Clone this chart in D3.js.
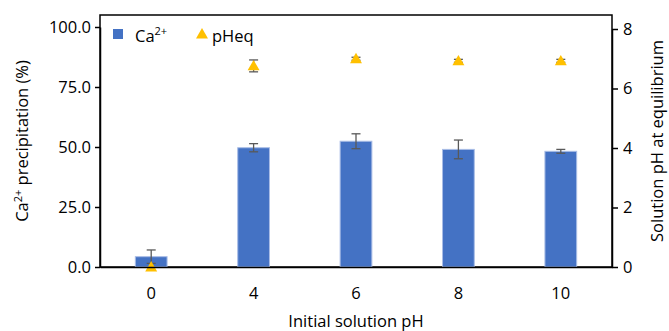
<!DOCTYPE html>
<html>
<head>
<meta charset="utf-8">
<script src="https://cdn.jsdelivr.net/npm/d3@7"></script>
<style>
  body { margin: 0; background: #fff; }
  svg { display: block; font-family: "Open Sans", sans-serif; }
</style>
</head>
<body>
<div id="chart"></div>
<script>
// data
const categories = ["0", "4", "6", "8", "10"];
const caPrecip = [4.3, 49.7, 52.4, 49.0, 48.2];
const caErr = [2.8, 1.7, 3.1, 3.9, 0.8];
const pHeq = [0.0, 6.76, 7.0, 6.93, 6.93];
const pHeqErr = [0, 0.2, 0.05, 0.05, 0.05];
const leftTicks = [0, 25, 50, 75, 100];
const rightTicks = [0, 2, 4, 6, 8];

const width = 669, height = 331;
const box = {left: 100, right: 612, top: 15, bottom: 267};
const fs = 16.5;

const svg = d3.select("#chart").append("svg")
  .attr("width", width)
  .attr("height", height);

let x = d3.scaleBand().domain(categories).range([box.left, box.right]).padding(0);
let yL = d3.scaleLinear().domain([0, 100]).range([box.bottom, 27]);
let yR = d3.scaleLinear().domain([0, 8]).range([box.bottom, 29]);

// frame
svg.append("rect")
  .attr("x", box.left).attr("y", box.top)
  .attr("width", box.right - box.left).attr("height", box.bottom - box.top)
  .attr("fill", "none").attr("stroke", "#000").attr("stroke-width", 1.5);

// bars
const barW = x.bandwidth() * 0.31;
svg.append("g").selectAll("rect")
  .data(caPrecip)
  .enter().append("rect")
  .attr("x", (d, i) => x(categories[i]) + x.bandwidth() / 2 - barW / 2)
  .attr("y", d => yL(d))
  .attr("width", barW)
  .attr("height", d => yL(0) - yL(d))
  .attr("fill", "#4472C4")
  .attr("stroke", "#a9bde6")
  .attr("stroke-width", 1);

// error bars
function errBars(vals, errs, scale) {
  const g = svg.append("g").attr("stroke", "#595959").attr("stroke-width", 1.3);
  vals.forEach((v, i) => {
    if (!errs[i]) return;
    const cx = x(categories[i]) + x.bandwidth() / 2;
    const y1 = scale(v + errs[i]), y2 = scale(Math.max(0, v - errs[i]));
    g.append("line").attr("x1", cx).attr("x2", cx).attr("y1", y1).attr("y2", y2);
    g.append("line").attr("x1", cx - 4.5).attr("x2", cx + 4.5).attr("y1", y1).attr("y2", y1);
    g.append("line").attr("x1", cx - 4.5).attr("x2", cx + 4.5).attr("y1", y2).attr("y2", y2);
  });
}
errBars(caPrecip, caErr, yL);
errBars(pHeq, pHeqErr, yR);

// pHeq triangles
const tri = d3.symbol().type(d3.symbolTriangle).size(62);
svg.append("g").selectAll("path")
  .data(pHeq)
  .enter().append("path")
  .attr("d", tri)
  .attr("transform", (d, i) => `translate(${x(categories[i]) + x.bandwidth() / 2},${yR(d) + 1})`)
  .attr("fill", "#FFC000");

// axes
const axL = svg.append("g")
  .attr("transform", `translate(${box.left},0)`)
  .call(d3.axisLeft(yL).tickValues(leftTicks).tickFormat(d3.format(".1f")).tickSize(5).tickSizeOuter(0));
const axR = svg.append("g")
  .attr("transform", `translate(${box.right},0)`)
  .call(d3.axisRight(yR).tickValues(rightTicks).tickFormat(d3.format("d")).tickSize(6).tickSizeOuter(0));
const axB = svg.append("g")
  .attr("transform", `translate(0,${box.bottom})`)
  .call(d3.axisBottom(x).tickSize(0));

[axL, axR, axB].forEach(a => {
  a.select(".domain").attr("stroke", "#000").attr("stroke-width", 1.5);
  a.selectAll(".tick line").attr("stroke", "#000").attr("stroke-width", 1.5);
  a.selectAll(".tick text").attr("font-size", fs).attr("font-family", "Open Sans, sans-serif").attr("fill", "#000");
});
axL.selectAll(".tick text").attr("x", -9);
axR.selectAll(".tick text").attr("x", 11);
axB.selectAll(".tick text").attr("dy", "0.71em").attr("y", 20);

// axis titles
svg.append("text")
  .attr("x", 356).attr("y", 327)
  .attr("text-anchor", "middle").attr("font-size", fs)
  .text("Initial solution pH");

const lt = svg.append("text")
  .attr("transform", `translate(28,141) rotate(-90)`)
  .attr("text-anchor", "middle").attr("font-size", fs);
lt.append("tspan").text("Ca");
lt.append("tspan").attr("font-size", 11).attr("dy", -6).text("2+");
lt.append("tspan").attr("dy", 6).text(" precipitation (%)");

svg.append("text")
  .attr("transform", `translate(663,141) rotate(-90)`)
  .attr("text-anchor", "middle").attr("font-size", fs)
  .text("Solution pH at equilibrium");

// legend
const leg = svg.append("g");
leg.append("rect").attr("x", 113).attr("y", 29).attr("width", 10).attr("height", 10).attr("fill", "#4472C4");
const l1 = leg.append("text").attr("x", 135).attr("y", 42).attr("font-size", fs);
l1.append("tspan").text("Ca");
l1.append("tspan").attr("font-size", 11).attr("dy", -7).text("2+");
leg.append("path").attr("d", tri).attr("transform", "translate(202,35)").attr("fill", "#FFC000");
leg.append("text").attr("x", 212).attr("y", 42).attr("font-size", fs).text("pHeq");
</script>
</body>
</html>
